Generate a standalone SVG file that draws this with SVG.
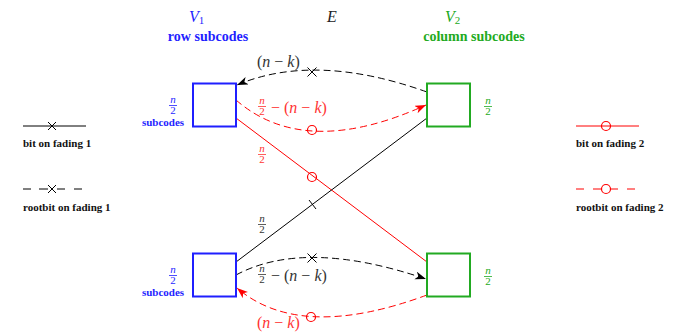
<svg xmlns="http://www.w3.org/2000/svg" width="687" height="333" viewBox="0 0 687 333">
<style>
.bg{fill:#fff}
.box-b{fill:#fff;stroke:#1f1fff;stroke-width:2}
.box-g{fill:#fff;stroke:#22aa22;stroke-width:2}
.ln-k{fill:none;stroke:#000;stroke-width:1}
.ln-r{fill:none;stroke:#ff0000;stroke-width:1}
.dash{stroke-dasharray:7 4}
.mk-k{fill:none;stroke:#000;stroke-width:1}
.mk-r{fill:none;stroke:#ff0000;stroke-width:1.2}
.math{font-family:"Liberation Serif",serif;font-size:16px}
.it{font-style:italic}
.frac{font-family:"Liberation Serif",serif;font-size:11px;text-anchor:middle}
.bold{font-family:"Liberation Serif",serif;font-weight:bold;font-size:11px}
.title{font-family:"Liberation Serif",serif;font-weight:bold;font-size:14px;text-anchor:middle}
.c-b{fill:#1f1fff}
.c-g{fill:#22aa22}
.c-r{fill:#ff3333}
.c-k{fill:#333}
</style>
<defs>
<marker id="ak" markerUnits="userSpaceOnUse" markerWidth="14" markerHeight="10" refX="11" refY="4" orient="auto">
<path d="M0,0 L11,4 L0,8 L3,4 z" fill="#000"/>
</marker>
<marker id="ar" markerUnits="userSpaceOnUse" markerWidth="14" markerHeight="10" refX="11" refY="4" orient="auto">
<path d="M0,0 L11,4 L0,8 L3,4 z" fill="#ff0000"/>
</marker>
</defs>
<rect class="bg" x="0" y="0" width="687" height="333"/>

<!-- headers -->
<g id="header-v1">
<text class="math it c-b" x="189" y="22" font-size="18">V<tspan font-style="normal" font-size="11" dy="2">1</tspan></text>
<text class="title c-b" x="208" y="41">row subcodes</text>
</g>
<g id="header-e">
<text class="math it" x="332" y="22" font-size="18" text-anchor="middle" fill="#222">E</text>
</g>
<g id="header-v2">
<text class="math it c-g" x="445" y="22" font-size="18">V<tspan font-style="normal" font-size="11" dy="2">2</tspan></text>
<text class="title c-g" x="474" y="41">column subcodes</text>
</g>

<!-- connectors -->
<g id="connectors">
<line class="ln-r" x1="236" y1="118" x2="427" y2="262"/>
<line class="ln-k" x1="236" y1="262" x2="427" y2="118"/>
<circle class="mk-r" cx="312" cy="177" r="4.5"/>
<line class="mk-k" x1="309" y1="200" x2="316" y2="209"/>

<path class="ln-k dash" d="M427,92 Q315,52 237,85" marker-end="url(#ak)"/>
<path class="ln-r dash" d="M236,100 Q305,160 426,105" marker-end="url(#ar)"/>
<path class="ln-k dash" d="M236,275 Q305,238 426,279" marker-end="url(#ak)"/>
<path class="ln-r dash" d="M427,295 Q300,342 237,288" marker-end="url(#ar)"/>

<path class="mk-k" d="M307.5,67.5 L316.5,76.5 M307.5,76.5 L316.5,67.5"/>
<circle class="mk-r" cx="312" cy="130" r="4.5"/>
<path class="mk-k" d="M307.5,253.5 L316.5,262.5 M307.5,262.5 L316.5,253.5"/>
<circle class="mk-r" cx="311" cy="317" r="4.5"/>
</g>

<!-- edge labels -->
<g id="edge-labels">
<text class="math c-k" x="257" y="67">(<tspan class="it">n</tspan> − <tspan class="it">k</tspan>)</text>

<text class="frac it c-r" x="262" y="104">n</text>
<line x1="258" y1="106.5" x2="266" y2="106.5" stroke="#ff3333" stroke-width="0.8"/>
<text class="frac c-r" x="262" y="115">2</text>
<text class="math c-r" x="271" y="113">− (<tspan class="it">n</tspan> − <tspan class="it">k</tspan>)</text>

<text class="frac it c-r" x="262" y="152">n</text>
<line x1="258" y1="154.5" x2="266" y2="154.5" stroke="#ff3333" stroke-width="0.8"/>
<text class="frac c-r" x="262" y="163">2</text>

<text class="frac it c-k" x="262" y="222">n</text>
<line x1="258" y1="224.5" x2="266" y2="224.5" stroke="#333" stroke-width="0.8"/>
<text class="frac c-k" x="262" y="233">2</text>

<text class="frac it c-k" x="262" y="272">n</text>
<line x1="258" y1="274.5" x2="266" y2="274.5" stroke="#333" stroke-width="0.8"/>
<text class="frac c-k" x="262" y="283">2</text>
<text class="math c-k" x="271" y="281">− (<tspan class="it">n</tspan> − <tspan class="it">k</tspan>)</text>

<text class="math c-r" x="257" y="328">(<tspan class="it">n</tspan> − <tspan class="it">k</tspan>)</text>
</g>

<!-- nodes -->
<g id="v1-top">
<rect class="box-b" x="193" y="83.5" width="43" height="43"/>
<text class="frac it c-b" x="173" y="103">n</text>
<line x1="169" y1="105.5" x2="177" y2="105.5" stroke="#1f1fff" stroke-width="0.8"/>
<text class="frac c-b" x="173" y="114">2</text>
<text class="bold c-b" x="163" y="126" text-anchor="middle">subcodes</text>
</g>
<g id="v2-top">
<rect class="box-g" x="427" y="83.5" width="43" height="43"/>
<text class="frac it c-g" x="488" y="104">n</text>
<line x1="484" y1="106.5" x2="492" y2="106.5" stroke="#22aa22" stroke-width="0.8"/>
<text class="frac c-g" x="488" y="115">2</text>
</g>
<g id="v1-bot">
<rect class="box-b" x="193" y="253.5" width="43" height="43"/>
<text class="frac it c-b" x="173" y="273">n</text>
<line x1="169" y1="275.5" x2="177" y2="275.5" stroke="#1f1fff" stroke-width="0.8"/>
<text class="frac c-b" x="173" y="284">2</text>
<text class="bold c-b" x="163" y="296" text-anchor="middle">subcodes</text>
</g>
<g id="v2-bot">
<rect class="box-g" x="427" y="253.5" width="43" height="43"/>
<text class="frac it c-g" x="488" y="274">n</text>
<line x1="484" y1="276.5" x2="492" y2="276.5" stroke="#22aa22" stroke-width="0.8"/>
<text class="frac c-g" x="488" y="285">2</text>
</g>

<!-- legend -->
<g id="legend-bit1">
<line class="ln-k" x1="23" y1="126" x2="86" y2="126"/>
<path class="mk-k" d="M48,122 L56,130 M48,130 L56,122"/>
<text class="bold" x="23" y="147" fill="#111">bit on fading 1</text>
</g>
<g id="legend-root1">
<path class="ln-k" d="M23,189 H31 M39,189 H48 M57,189 H65 M74,189 H82"/>
<path class="mk-k" d="M48,185 L56,193 M48,193 L56,185"/>
<text class="bold" x="23" y="211" fill="#111">rootbit on fading 1</text>
</g>
<g id="legend-bit2">
<line class="ln-r" x1="576" y1="126" x2="639" y2="126"/>
<circle class="mk-r" cx="606" cy="126" r="4.5" fill="#fff"/>
<text class="bold" x="576" y="147" fill="#111">bit on fading 2</text>
</g>
<g id="legend-root2">
<path class="ln-r" d="M576,189 H584 M593,189 H601 M611,189 H618 M627,189 H635"/>
<circle class="mk-r" cx="606" cy="189" r="4.5"/>
<text class="bold" x="576" y="211" fill="#111">rootbit on fading 2</text>
</g>
</svg>
